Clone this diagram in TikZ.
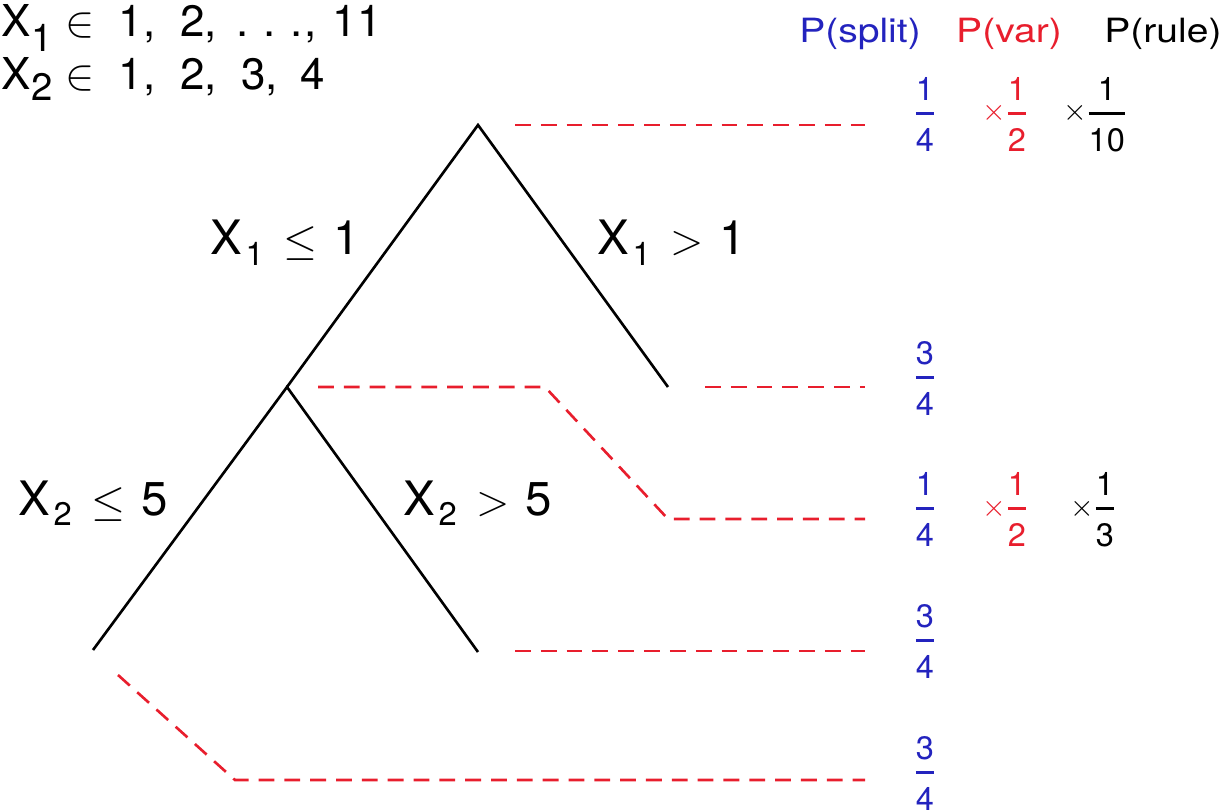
\documentclass[tikz,border=0pt]{standalone}
\usepackage{amsmath}
\usepackage{fontspec}
\setmainfont{TeX Gyre Heros}
\definecolor{splitblue}{RGB}{35,35,190}
\definecolor{varred}{RGB}{232,30,45}
\newlength{\pxu}\setlength{\pxu}{0.5669pt}
\newcommand{\atx}[2]{\rlap{\hspace*{#1\pxu}#2}}
\newcommand{\lowsub}[3]{\raisebox{#2}{\fontsize{#1}{#1}\selectfont #3}}
\newcommand{\myfrac}[2]{$\genfrac{}{}{1.6pt}{0}{\text{#1}}{\rule{0pt}{16.2pt}\text{#2}}$}
\newcommand{\wide}[1]{\scalebox{1.17}[1]{#1}}
\tikzset{
  branch/.style={line width=1.5pt, black},
  reddash/.style={line width=1.5pt, varred, dash pattern=on 9pt off 5.7pt},
  bigtext/.style={font=\fontsize{27}{31}\selectfont, inner sep=0pt, anchor=base west},
  headtext/.style={font=\fontsize{19}{22}\selectfont, inner sep=0pt, anchor=base},
  fractext/.style={font=\fontsize{18.5}{22}\selectfont, inner sep=0pt, anchor=base},
  toptext/.style={font=\fontsize{25}{29}\selectfont, inner sep=0pt, anchor=base west},
}
\begin{document}
\begin{tikzpicture}[x=0.02cm,y=-0.02cm]
\useasboundingbox (0,0) rectangle (1230,810);
% tree
\coordinate (root) at (478,125);
\coordinate (rleaf) at (668,387);
\coordinate (inner) at (287,387);
\coordinate (lleaf) at (93,650);
\coordinate (mleaf) at (478,652);
\draw[branch] (inner) -- (root) -- (rleaf);
\draw[branch] (lleaf) -- (inner) -- (mleaf);
% dashed guides
\coordinate (d1s) at (515,125); \coordinate (d1e) at (865,125);
\coordinate (d2s) at (705,387); \coordinate (d2e) at (865,387);
\coordinate (d3s) at (318,387); \coordinate (d3a) at (545,387); \coordinate (d3b) at (668,519); \coordinate (d3e) at (865,519);
\coordinate (d4s) at (515,651); \coordinate (d4e) at (865,651);
\coordinate (d5s) at (118,675); \coordinate (d5a) at (235,780); \coordinate (d5e) at (865,780);
\draw[reddash] (d1s) -- (d1e);
\draw[reddash] (d2s) -- (d2e);
\draw[reddash] (d3s) -- (d3a) -- (d3b) -- (d3e);
\draw[reddash] (d4s) -- (d4e);
\draw[reddash] (d5s) -- (d5a) -- (d5e);
% top-left
\node[toptext] (dom1) at (0,37) {\atx{0}{X}\atx{30}{\lowsub{21.8}{-8.5pt}{1}}\atx{65}{$\in$}\atx{118}{1,}\atx{180}{2,}\atx{236}{.}\atx{263}{.}\atx{290}{.}\atx{305}{,}\atx{333}{11}};
\node[toptext] (dom2) at (0,90) {\atx{0}{X}\atx{30}{\lowsub{21.8}{-5.7pt}{2}}\atx{65}{$\in$}\atx{118}{1,}\atx{180}{2,}\atx{241}{3,}\atx{301}{4}};
% branch labels
\node[bigtext] (lab1) at (210,255) {X\hspace{2pt}\lowsub{18.6}{-5.7pt}{1}\hspace{11pt}$\leq$\hspace{9.5pt}1};
\node[bigtext] (lab2) at (597,255) {X\hspace{2pt}\lowsub{18.6}{-5.7pt}{1}\hspace{11pt}$>$\hspace{9.5pt}1};
\node[bigtext] (lab3) at (18,515) {X\hspace{2pt}\lowsub{18.6}{-5.7pt}{2}\hspace{11pt}$\leq$\hspace{9.5pt}5};
\node[bigtext] (lab4) at (403,515) {X\hspace{2pt}\lowsub{18.6}{-5.7pt}{2}\hspace{11pt}$>$\hspace{9.5pt}5};
% headers
\node[headtext, text=splitblue] (hsplit) at (860,43) {\wide{P(split)}};
\node[headtext, text=varred] (hvar) at (1009,43) {\wide{P(var)}};
\node[headtext, text=black] (hrule) at (1163,43) {\wide{P(rule)}};
% probabilities (node baseline = bar height + math axis)
\node[fractext, text=splitblue] (f1a) at (925,121) {\myfrac{1}{4}};
\node[fractext, text=varred] (f1b) at (1005,121) {$\times$\myfrac{1}{2}};
\node[fractext, text=black] (f1c) at (1095,121) {$\times$\myfrac{1}{10}};
\node[fractext, text=splitblue] (f2a) at (925,385) {\myfrac{3}{4}};
\node[fractext, text=splitblue] (f3a) at (925,516) {\myfrac{1}{4}};
\node[fractext, text=varred] (f3b) at (1005,516) {$\times$\myfrac{1}{2}};
\node[fractext, text=black] (f3c) at (1093,516) {$\times$\myfrac{1}{3}};
\node[fractext, text=splitblue] (f4a) at (925,648) {\myfrac{3}{4}};
\node[fractext, text=splitblue] (f5a) at (925,780) {\myfrac{3}{4}};
\end{tikzpicture}
\end{document}
